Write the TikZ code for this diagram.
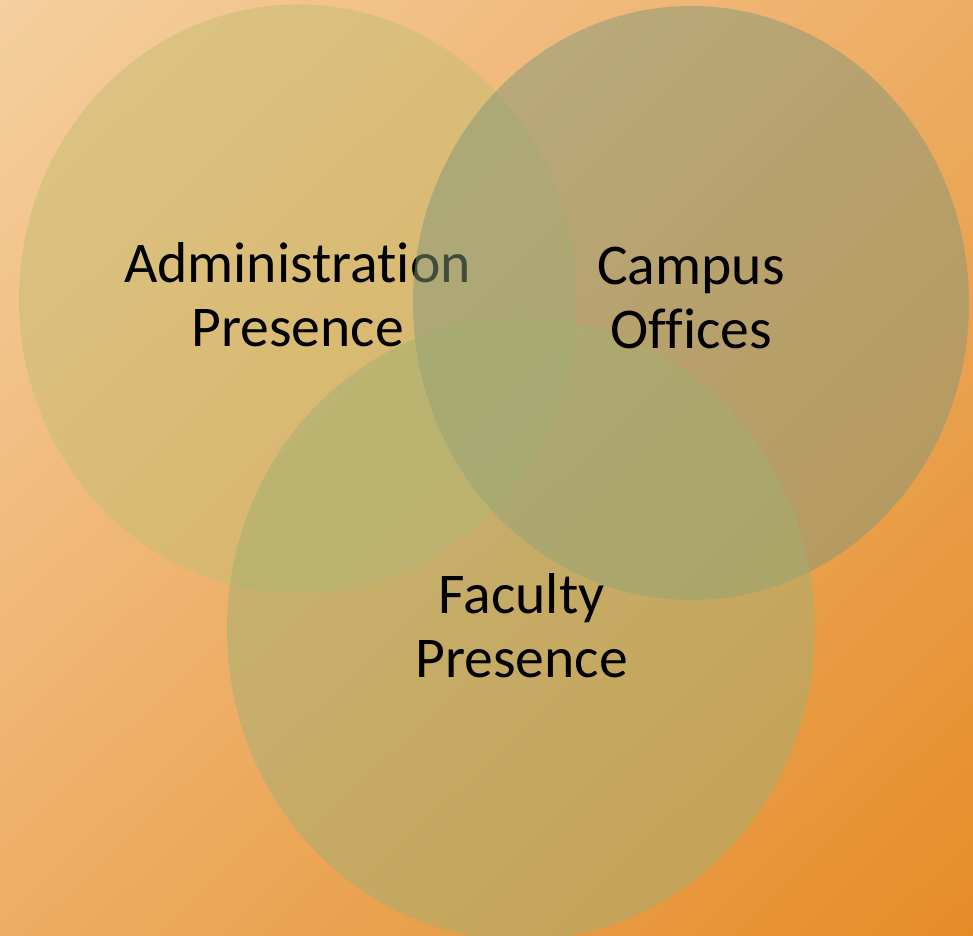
\documentclass[tikz,border=0pt]{standalone}
\usepackage{fontspec}
\setmainfont{Carlito}[Ligatures={NoCommon}]
\usepackage{tikz}
\usetikzlibrary{calc,shadings}

\definecolor{bgTL}{RGB}{245,207,160}
\definecolor{bgMid}{RGB}{237,173,100}
\definecolor{bgBR}{RGB}{229,140,40}
\definecolor{adminFill}{RGB}{196,190,114}
\definecolor{campusFill}{RGB}{131,152,121}
\definecolor{facultyFill}{RGB}{162,175,114}

\tikzset{
    venn/.style={draw=none, fill opacity=0.5},
    venntext/.style={align=center, inner sep=0pt, text=black,
        font=\fontsize{16.4}{18.2}\selectfont}
}

\begin{document}
\begin{tikzpicture}
                        \useasboundingbox (0,0) rectangle (9.73,9.36);
                        \clip (0,0) rectangle (9.73,9.36);
                        \shade [upper left=bgTL, upper right=bgMid, lower left=bgMid, lower right=bgBR] (0,0) rectangle (9.73,9.36);
                        \fill [venn, adminFill] (2.98,6.37) ellipse [x radius=2.79, y radius=2.945];
                        \node [venntext] (admin) at (2.975,6.41) {Administration\\Presence};
                        \fill [venn, campusFill] (6.91,6.33) ellipse [x radius=2.78, y radius=2.97];
                        \fill [venn, facultyFill] (5.21,3.07) ellipse [x radius=2.94, y radius=3.11];
                        \node [venntext] (campus) at (6.91,6.38) {Campus\\Offices};
                        \node [venntext] (faculty) at (5.215,3.105) {Faculty\\Presence};
                    \end{tikzpicture}
\end{document}
